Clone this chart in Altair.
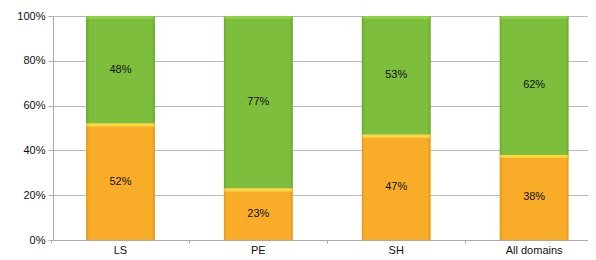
import altair as alt
import pandas as pd

categories = ["LS", "PE", "SH", "All domains"]
orange_vals = [52, 23, 47, 38]
green_vals = [48, 77, 53, 62]

rows = []
for c, o, g in zip(categories, orange_vals, green_vals):
    rows.append({"cat": c, "series": "Orange", "val": o, "start": 0, "end": o / 100})
    rows.append({"cat": c, "series": "Green", "val": g, "start": o / 100, "end": (o + g) / 100})
df = pd.DataFrame(rows)
df["mid"] = (df["start"] + df["end"]) / 2
df["label"] = df["val"].astype(str) + "%"
df["hi"] = df["end"] - 0.013

xscale = alt.Scale(domain=categories, paddingInner=0.5, paddingOuter=0.19, align=0.63)
x_axis = alt.Axis(labelAngle=0, labelFontSize=11, labelColor="#111", labelFont="Liberation Sans",
                  domainColor="#AAAAAA", tickColor="#AAAAAA", tickSize=3, bandPosition=-0.5,
                  labelPadding=1, grid=False)
y_axis = alt.Axis(format=".0%", values=[0, 0.2, 0.4, 0.6, 0.8, 1.0], labelFontSize=11,
                  labelColor="#111", labelFont="Liberation Sans", gridColor="#BBBBBB",
                  domainColor="#AAAAAA", tickColor="#AAAAAA", tickSize=5, labelPadding=3)
yscale = alt.Scale(domain=[0, 1])


def grad(edge, mid):
    return alt.Gradient(gradient="linear", x1=0, x2=1, y1=0, y2=0,
                        stops=[alt.GradientStop(offset=0, color=edge),
                               alt.GradientStop(offset=0.05, color=mid),
                               alt.GradientStop(offset=0.95, color=mid),
                               alt.GradientStop(offset=1, color=edge)])


base = alt.Chart(df)

orange = base.transform_filter(alt.datum.series == "Orange").mark_bar(
    color=grad("#E39A1E", "#F9AC27")).encode(
    x=alt.X("cat:N", sort=categories, title=None, scale=xscale, axis=x_axis),
    y=alt.Y("start:Q", scale=yscale, title=None, axis=y_axis),
    y2="end:Q",
)
green = base.transform_filter(alt.datum.series == "Green").mark_bar(
    color=grad("#6AAA30", "#7DBE3C")).encode(
    x=alt.X("cat:N", sort=categories),
    y="start:Q",
    y2="end:Q",
)
orange_top = base.transform_filter(alt.datum.series == "Orange").mark_bar(
    color=grad("#F0C23A", "#FDD642")).encode(
    x=alt.X("cat:N", sort=categories),
    y="hi:Q",
    y2="end:Q",
)
green_top = base.transform_filter(alt.datum.series == "Green").mark_bar(
    color=grad("#7CC03A", "#8FD146")).encode(
    x=alt.X("cat:N", sort=categories),
    y="hi:Q",
    y2="end:Q",
)

text = base.mark_text(fontSize=11, color="#111", font="Liberation Sans").encode(
    x=alt.X("cat:N", sort=categories),
    y="mid:Q",
    text="label:N",
)

chart = alt.layer(orange, green, orange_top, green_top, text).properties(
    width=535, height=224,
    autosize=alt.AutoSizeParams(type="none"),
    padding={"left": 45, "top": 8, "right": 0, "bottom": 20},
).configure_view(stroke=None).configure_axis(domainWidth=1, gridWidth=1)

chart.save("out.html", embed_options={"renderer": "svg", "actions": False})
